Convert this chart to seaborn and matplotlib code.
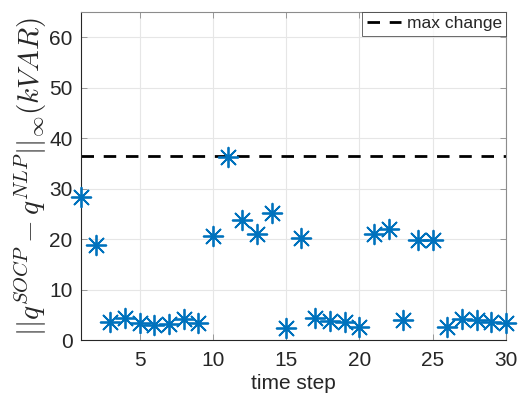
import matplotlib
matplotlib.use("Agg")
import matplotlib.pyplot as plt
import seaborn as sns
import pandas as pd

# Per-step infinity-norm gap between SOCP and NLP reactive power solutions
time_step = list(range(1, 31))
q_gap = [28.4, 18.9, 3.6, 4.3, 3.4, 3.0, 3.1, 4.1, 3.3, 20.6,
         36.3, 23.8, 21.1, 25.1, 2.4, 20.3, 4.3, 3.8, 3.5, 2.6,
         21.1, 21.9, 4.0, 19.9, 19.9, 2.6, 4.1, 4.0, 3.6, 3.3]
max_change = 36.4
x_ticks = [5, 10, 15, 20, 25, 30]
y_ticks = [0, 10, 20, 30, 40, 50, 60]

df = pd.DataFrame({"time step": time_step, "gap": q_gap})

sns.set_theme(style="white")
plt.rcParams["font.family"] = ["Liberation Sans", "DejaVu Sans"]
plt.rcParams["mathtext.fontset"] = "cm"

fig = plt.figure(figsize=(5.28, 4.03), dpi=100)
ax = fig.add_axes([81 / 528, 1 - 340 / 403, 425 / 528, 328 / 403])

sns.scatterplot(data=df, x="time step", y="gap", ax=ax,
                marker=(8, 2, 0), s=200, color="#0072BD",
                linewidth=1.3, edgecolor="#0072BD", legend=False,
                zorder=3, clip_on=False)
ax.axhline(max_change, color="black", linestyle=(0, (4.5, 3.5)),
           linewidth=2.0, label="max change", zorder=2)

ax.set_xlim(1, 30)
ax.set_ylim(0, 65)
ax.set_xticks(x_ticks)
ax.set_yticks(y_ticks)
ax.grid(True, color="#e6e6e6", linewidth=0.8)
ax.set_axisbelow(True)

spine_col = "#262626"
for side in ["left", "right", "top", "bottom"]:
    ax.spines[side].set_visible(True)
    ax.spines[side].set_color("#8c8c8c" if side in ("right", "top") else spine_col)
    ax.spines[side].set_linewidth(0.8)
ax.tick_params(axis="both", direction="in", length=4, width=0.6,
               colors="#8c8c8c", labelcolor="#262626", labelsize=15,
               top=True, right=True, bottom=True, left=True)
ax.tick_params(axis="x", pad=8)
ax.tick_params(axis="y", pad=6)

ax.set_xlabel("time step", fontsize=15, color="#262626", labelpad=3)
ax.set_ylabel(r"$||q^{SOCP}-q^{NLP}||_{\infty}(kVAR)$", fontsize=21,
              color="#262626", labelpad=0)

leg = ax.legend(loc="upper right", fontsize=12.5, frameon=True, fancybox=False,
                borderpad=0.25, handlelength=2.0, handletextpad=0.3,
                borderaxespad=0.0)
leg.get_frame().set_edgecolor("#262626")
leg.get_frame().set_linewidth(0.6)

fig.savefig("out.png", dpi=100)
